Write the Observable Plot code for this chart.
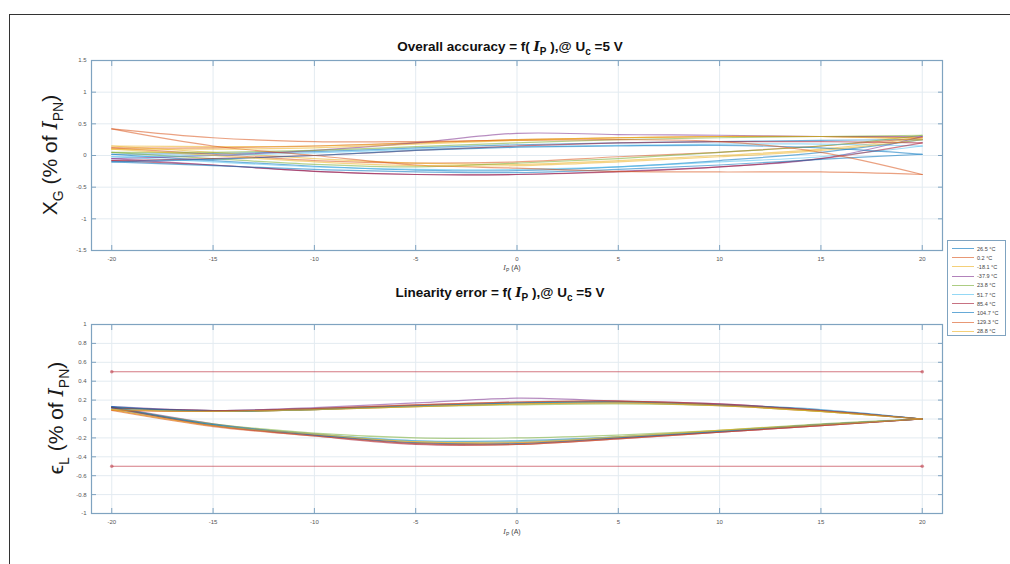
<!DOCTYPE html>
<html>
<head>
<meta charset="utf-8">
<script src="https://cdn.jsdelivr.net/npm/d3@7"></script>
<script src="https://cdn.jsdelivr.net/npm/@observablehq/plot@0.6"></script>
<style>
  html, body { margin: 0; padding: 0; background: #fff; width: 1010px; height: 564px; overflow: hidden; font-family: Arial, "Liberation Sans", sans-serif; }
  #page { position: relative; width: 1010px; height: 564px; }
  #border { position: absolute; left: 9px; top: 14px; width: 1100px; height: 700px; border: 1.5px solid #333; box-sizing: border-box; }
  .abs { position: absolute; }
  .plotbox { width: 960px; }
  .plotbox svg { display: block; max-width: none !important; overflow: visible; }
  .title { font-weight: bold; font-size: 13.5px; color: #111; white-space: nowrap; transform: translateX(-50%); }
  .title sub { font-size: 10px; vertical-align: -4px; }
  .ital { font-family: "DejaVu Serif", serif; font-style: italic; }
  .ylab { font-size: 21px; color: #1a1a1a; white-space: nowrap; transform: translate(-50%, -50%) rotate(-90deg); }
  .ylab sub { font-size: 14px; vertical-align: -6px; }
  .xlab { font-size: 7px; color: #444; white-space: nowrap; transform: translateX(-50%); }
  .xlab sub { font-size: 5px; vertical-align: -2px; }
  #legend { left: 947px; top: 240px; width: 59px; height: 96px; border: 1px solid #7fa3c0; background: #fff; box-sizing: border-box; padding-top: 3px; }
  .leg { display: flex; align-items: center; height: 9.2px; }
  .leg .sw { width: 22px; height: 0; border-top: 1.2px solid; margin-left: 4px; margin-right: 3px; opacity: 0.6; }
  .leg .tx { font-size: 5.5px; color: #444; white-space: nowrap; }
</style>
</head>
<body>
<div id="page">
  <div id="border"></div>
  <div id="topPlot" class="abs plotbox" style="left:0;top:0"></div>
  <div id="botPlot" class="abs plotbox" style="left:0;top:280px"></div>

  <div class="abs title" style="left:510px;top:38px">Overall accuracy = f( <span class="ital">I</span><sub>P</sub> ),@ U<sub>c</sub> =5 V</div>
  <div class="abs title" style="left:500px;top:284px">Linearity error = f( <span class="ital">I</span><sub>P</sub> ),@ U<sub>c</sub> =5 V</div>

  <div class="abs ylab" style="left:52px;top:155px">X<sub>G</sub> (% of <span class="ital">I</span><sub>PN</sub>)</div>
  <div class="abs ylab" style="left:58px;top:418px">&#x03F5;<sub>L</sub> (% of <span class="ital">I</span><sub>PN</sub>)</div>

  <div class="abs xlab" style="left:512px;top:264px"><span class="ital">I</span><sub>P</sub> (A)</div>
  <div class="abs xlab" style="left:512px;top:528px"><span class="ital">I</span><sub>P</sub> (A)</div>

  <div id="legend" class="abs"></div>
</div>
<script>
// ---------- data ----------
const temps = ["26.5 °C", "0.2 °C", "-18.1 °C", "-37.9 °C", "23.8 °C", "51.7 °C", "85.4 °C", "104.7 °C", "129.3 °C", "28.8 °C"];
const colors = ["#0072BD", "#D95319", "#EDB120", "#7E2F8E", "#77AC30", "#4DBEEE", "#A2142F", "#0072BD", "#D95319", "#EDB120"];
const currents = [-20, -15, -10, -5, 0, 5, 10, 15, 20];

// Overall accuracy X_G (% of I_PN): upper and lower sweep per temperature
const accUp = [
  [0.02, 0.03, 0.06, 0.12, 0.17, 0.20, 0.22, 0.24, 0.25],
  [0.12, 0.12, 0.15, 0.20, 0.25, 0.28, 0.30, 0.30, 0.28],
  [0.15, 0.14, 0.15, 0.20, 0.25, 0.28, 0.30, 0.30, 0.28],
  [-0.05, 0.00, 0.08, 0.20, 0.35, 0.33, 0.32, 0.30, 0.30],
  [0.05, 0.05, 0.08, 0.14, 0.20, 0.25, 0.28, 0.30, 0.32],
  [-0.02, 0.00, 0.04, 0.10, 0.14, 0.16, 0.18, 0.18, 0.15],
  [-0.08, -0.05, 0.00, 0.08, 0.15, 0.20, 0.22, 0.22, 0.20],
  [-0.10, -0.06, 0.00, 0.08, 0.13, 0.15, 0.16, 0.12, 0.02],
  [0.42, 0.28, 0.22, 0.22, 0.24, 0.25, 0.22, 0.05, -0.30],
  [0.10, 0.10, 0.12, 0.18, 0.24, 0.28, 0.30, 0.30, 0.25]
];
const accLo = [
  [0.02, -0.08, -0.17, -0.23, -0.24, -0.18, -0.08, 0.05, 0.25],
  [0.12, 0.02, -0.08, -0.12, -0.10, -0.02, 0.05, 0.15, 0.28],
  [0.15, 0.05, -0.05, -0.12, -0.14, -0.08, 0.00, 0.10, 0.28],
  [-0.05, -0.15, -0.25, -0.30, -0.30, -0.25, -0.18, -0.05, 0.30],
  [0.05, -0.05, -0.14, -0.18, -0.12, -0.05, 0.05, 0.15, 0.32],
  [-0.02, -0.10, -0.18, -0.22, -0.22, -0.18, -0.10, -0.02, 0.15],
  [-0.08, -0.15, -0.25, -0.30, -0.30, -0.26, -0.18, -0.05, 0.20],
  [-0.10, -0.16, -0.22, -0.26, -0.27, -0.22, -0.15, -0.06, 0.02],
  [0.42, 0.15, 0.00, -0.15, -0.20, -0.25, -0.26, -0.26, -0.30],
  [0.10, 0.00, -0.10, -0.16, -0.16, -0.10, -0.02, 0.08, 0.25]
];

// Linearity error eps_L (% of I_PN)
const linUp = [
  [0.12, 0.09, 0.11, 0.14, 0.17, 0.18, 0.15, 0.09, 0.00],
  [0.10, 0.08, 0.10, 0.13, 0.16, 0.17, 0.14, 0.08, 0.00],
  [0.11, 0.08, 0.10, 0.14, 0.16, 0.18, 0.15, 0.08, 0.00],
  [0.13, 0.09, 0.12, 0.17, 0.22, 0.19, 0.16, 0.09, 0.00],
  [0.12, 0.08, 0.10, 0.13, 0.15, 0.16, 0.14, 0.08, 0.00],
  [0.11, 0.08, 0.11, 0.14, 0.17, 0.18, 0.15, 0.09, 0.00],
  [0.12, 0.09, 0.11, 0.15, 0.18, 0.19, 0.16, 0.09, 0.00],
  [0.13, 0.08, 0.10, 0.14, 0.17, 0.18, 0.15, 0.10, 0.00],
  [0.09, 0.08, 0.11, 0.15, 0.18, 0.19, 0.15, 0.09, 0.00],
  [0.10, 0.08, 0.10, 0.13, 0.16, 0.17, 0.14, 0.08, 0.00]
];
const linLo = [
  [0.12, -0.06, -0.16, -0.23, -0.23, -0.19, -0.13, -0.06, 0.00],
  [0.10, -0.07, -0.17, -0.25, -0.25, -0.20, -0.13, -0.06, 0.00],
  [0.11, -0.06, -0.16, -0.24, -0.24, -0.19, -0.12, -0.06, 0.00],
  [0.13, -0.05, -0.17, -0.26, -0.26, -0.20, -0.14, -0.07, 0.00],
  [0.12, -0.05, -0.15, -0.20, -0.20, -0.17, -0.12, -0.05, 0.00],
  [0.11, -0.06, -0.16, -0.23, -0.24, -0.19, -0.13, -0.06, 0.00],
  [0.12, -0.07, -0.18, -0.27, -0.27, -0.21, -0.14, -0.07, 0.00],
  [0.13, -0.06, -0.17, -0.25, -0.26, -0.20, -0.13, -0.06, 0.00],
  [0.09, -0.08, -0.18, -0.26, -0.27, -0.21, -0.14, -0.07, 0.00],
  [0.10, -0.07, -0.16, -0.24, -0.25, -0.19, -0.12, -0.06, 0.00]
];

// limit lines for linearity error
const limitValues = [0.5, -0.5];
const limitRange = [-20, 20];

const xTicks = [-20, -15, -10, -5, 0, 5, 10, 15, 20];
const accTicks = [-1.5, -1, -0.5, 0, 0.5, 1, 1.5];
const linTicks = [-1, -0.8, -0.6, -0.4, -0.2, 0, 0.2, 0.4, 0.6, 0.8, 1];

// ---------- build ----------
function rows(up, lo) {
  const out = [];
  temps.forEach((t, i) => {
    currents.forEach((x, j) => out.push({t, s: t + "u", x, y: up[i][j]}));
    currents.forEach((x, j) => out.push({t, s: t + "l", x, y: lo[i][j]}));
  });
  return out;
}
const frameColor = "#7fa3c0";
const gridColor = "#e3ebf1";
const fmt = d => String(d);
const blank = () => "";

function axes(yTicks) {
  return [
    Plot.gridX(xTicks, {stroke: gridColor, strokeOpacity: 1}),
    Plot.gridY(yTicks, {stroke: gridColor, strokeOpacity: 1}),
    Plot.axisX(xTicks, {anchor: "bottom", label: null, tickSize: -5, tickPadding: 11, tickFormat: fmt, stroke: frameColor, fontSize: 6, fill: "#555"}),
    Plot.axisX(xTicks, {anchor: "top", label: null, tickSize: -5, tickFormat: blank, stroke: frameColor}),
    Plot.axisY(yTicks, {anchor: "left", label: null, tickSize: -5, tickPadding: 10, tickFormat: fmt, stroke: frameColor, fontSize: 6, fill: "#555"}),
    Plot.axisY(yTicks, {anchor: "right", label: null, tickSize: -5, tickFormat: blank, stroke: frameColor})
  ];
}

const common = {
  width: 960,
  marginLeft: 91, marginRight: 18,
  x: {domain: [-21, 21], label: null},
  color: {domain: temps, range: colors},
  style: {fontFamily: "Arial, 'Liberation Sans', sans-serif", overflow: "visible", background: "transparent"}
};

const lineOpts = {x: "x", y: "y", z: "s", stroke: "t", strokeWidth: 1.2, strokeOpacity: 0.55, curve: "catmull-rom"};

const chartTop = Plot.plot({
  ...common,
  height: 280, marginTop: 60, marginBottom: 30,
  y: {domain: [-1.5, 1.5], label: null},
  marks: [
    ...axes(accTicks),
    Plot.line(rows(accUp, accLo), lineOpts),
    Plot.frame({stroke: frameColor, strokeWidth: 1.2})
  ]
});
document.getElementById("topPlot").appendChild(chartTop);

const limits = [];
limitValues.forEach(v => limitRange.forEach(x => limits.push({x, y: v, k: String(v)})));

const chartBot = Plot.plot({
  ...common,
  height: 264, marginTop: 44, marginBottom: 31,
  y: {domain: [-1, 1], label: null},
  marks: [
    ...axes(linTicks),
    Plot.line(rows(linUp, linLo), lineOpts),
    Plot.line(limits, {x: "x", y: "y", z: "k", stroke: "#c2424f", strokeWidth: 1, strokeOpacity: 0.7}),
    Plot.dot(limits, {x: "x", y: "y", r: 1.8, fill: "#c2424f", fillOpacity: 0.6}),
    Plot.frame({stroke: frameColor, strokeWidth: 1.2})
  ]
});
document.getElementById("botPlot").appendChild(chartBot);

// legend
const leg = document.getElementById("legend");
temps.forEach((t, i) => {
  const row = document.createElement("div");
  row.className = "leg";
  row.innerHTML = `<div class="sw" style="border-color:${colors[i]}"></div><div class="tx">${t}</div>`;
  leg.appendChild(row);
});
</script>
</body>
</html>
